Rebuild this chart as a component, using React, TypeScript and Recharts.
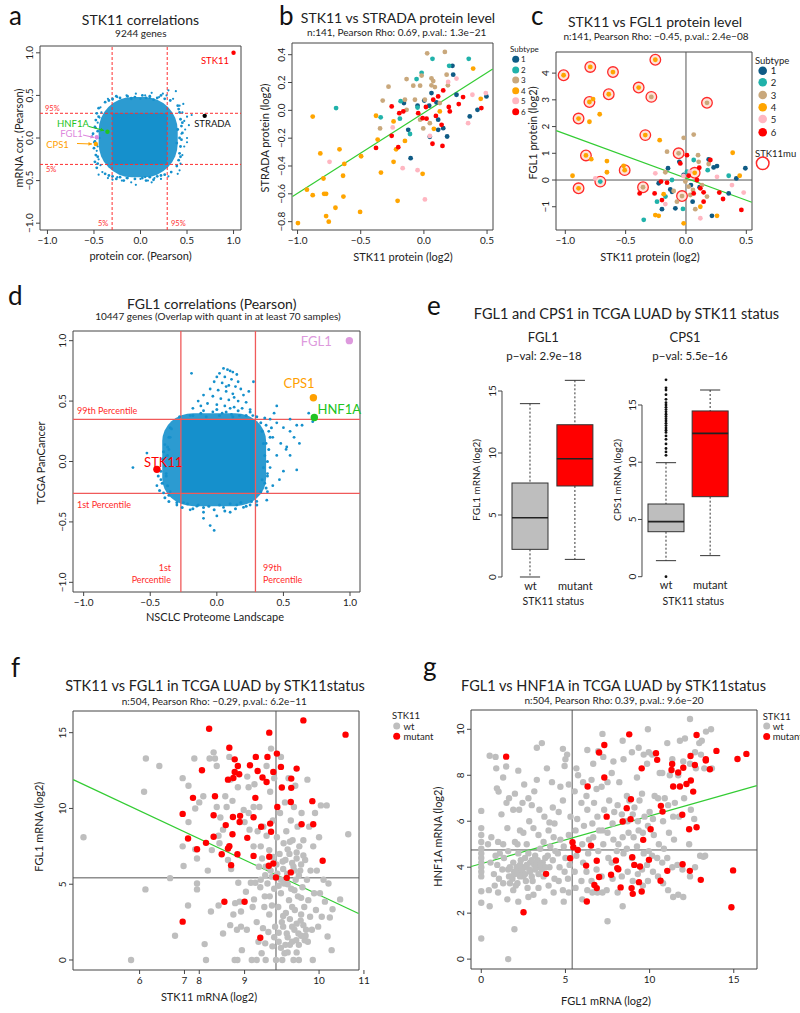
import React from 'react';
import {
  ScatterChart, Scatter, XAxis, YAxis, ReferenceLine, ReferenceArea, ComposedChart, Bar,
} from 'recharts';

const FONT = 'Lato, "Open Sans", "DejaVu Sans", sans-serif';
const BLUE = '#1590cc';
const GREY = '#bebebe';
const RED = '#ff0000';
const GREEN = '#33cc33';
const SUBTYPES = ['1', '2', '3', '4', '5', '6'];
const SUBTYPE_COLORS = ['#0f5b85', '#20b2aa', '#c9a87c', '#ffa500', '#ffb6c1', '#ff0000'];

// ---------- a: STK11 correlations ----------
const aTicks = [-1, -0.5, 0, 0.5, 1];
// the densest part of the cloud fills the 5%-95% box; a thinner halo surrounds it
const aCoreX = [-0.305, 0.287];
const aCoreY = [-0.31, 0.29];
const aHaloX = [-0.45, 0.4];
const aHaloY = [-0.46, 0.48];
const aCutX = [-0.305, 0.287];
const aCutY = [-0.31, 0.29];
const aCloud = [
  [-0.52, 0.02], [-0.5, -0.05], [-0.48, 0.12], [-0.47, -0.15], [-0.46, 0.18], [-0.45, -0.25], [-0.44, 0.24],
  [-0.43, -0.32], [-0.42, 0.3], [-0.44, 0.0], [-0.41, -0.4], [-0.45, -0.43], [-0.43, 0.36], [-0.46, -0.1],
  [-0.35, -0.47], [-0.3, -0.49], [-0.2, -0.5], [-0.1, -0.52], [-0.05, -0.55], [0.0, -0.48], [0.08, -0.5],
  [0.15, -0.47], [0.22, -0.48], [0.3, -0.45], [-0.15, -0.47], [0.05, -0.46], [-0.25, -0.46], [0.12, -0.52],
  [0.42, 0.38], [0.45, 0.3], [0.47, 0.2], [0.48, 0.1], [0.5, 0.0], [0.47, -0.1], [0.45, -0.2], [0.43, -0.3],
  [0.5, 0.25], [0.52, 0.15], [0.55, 0.27], [0.46, 0.4], [0.42, -0.38], [0.5, -0.05], [0.4, -0.42], [0.44, 0.05],
  [-0.35, 0.46], [-0.25, 0.48], [-0.15, 0.5], [-0.05, 0.52], [0.05, 0.5], [0.12, 0.53], [0.2, 0.48], [0.28, 0.5],
  [0.35, 0.46], [0.1, 0.47], [-0.3, 0.45], [0.3, 0.56], [0.38, 0.55], [-0.1, 0.47], [0.0, 0.46], [0.24, 0.52],
];
const aFringe = [
  [-0.47, -0.35], [-0.49, -0.28], [-0.48, -0.2], [-0.5, -0.12], [-0.49, -0.04], [-0.51, 0.05], [-0.49, 0.13], [-0.48, 0.21],
  [-0.47, 0.29], [-0.45, 0.35], [-0.46, -0.3], [-0.47, 0.0], [-0.46, 0.08], [-0.46, -0.22], [-0.45, 0.25], [-0.47, -0.08],
  [-0.38, 0.42], [-0.3, 0.46], [-0.22, 0.47], [-0.14, 0.49], [-0.06, 0.48], [0.02, 0.5], [0.1, 0.49], [0.18, 0.47],
  [0.26, 0.46], [0.32, 0.44], [-0.26, 0.49], [0.06, 0.47], [0.22, 0.5], [-0.1, 0.46], [-0.34, 0.44], [0.14, 0.45],
  [0.4, 0.38], [0.42, 0.3], [0.43, 0.22], [0.44, 0.14], [0.45, 0.06], [0.44, -0.02], [0.43, -0.1], [0.42, -0.18],
  [0.41, -0.26], [0.39, -0.33], [0.41, 0.34], [0.42, 0.0], [0.45, 0.18], [0.43, -0.22], [0.4, 0.1], [0.39, -0.06],
  [-0.38, -0.42], [-0.3, -0.45], [-0.22, -0.46], [-0.14, -0.47], [-0.06, -0.48], [0.02, -0.47], [0.1, -0.46], [0.18, -0.45],
  [0.26, -0.43], [0.33, -0.4], [-0.18, -0.5], [0.06, -0.5], [-0.26, -0.48], [0.14, -0.49], [-0.34, -0.44], [0.22, -0.44],
];
const aGeneNames = ['STK11', 'STRADA', 'HNF1A', 'FGL1', 'CPS1'];
const aGeneX = [1.0, 0.69, -0.355, -0.47, -0.48];
const aGeneY = [1.0, 0.26, 0.074, 0.01, -0.07];
const aGeneColors = ['#ff0000', '#000000', '#22c322', '#dd88dd', '#ffa500'];

// ---------- b: STK11 vs STRADA ----------
const bXTicks = [-1, -0.5, 0, 0.5];
const bYTicks = [-0.8, -0.6, -0.4, -0.2, 0, 0.2, 0.4];
const bFit = [[-1.04, -0.62], [0.545, 0.297]];
const bSub1 = [[-0.105, -0.344], [-0.124, -0.14], [-0.158, 0.052], [-0.05, 0.033], [0.042, 0.033], [0.06, 0.124], [0.1, 0.057], [0.113, -0.067], [0.113, -0.14], [0.153, -0.128], [0.184, -0.188], [0.232, 0.256], [0.226, 0.32], [0.258, 0.112], [0.363, -0.044], [0.424, 0.004], [0.495, 0.1], [0.047, -0.19], [0.003, 0.07]];
const bSub2 = [[-0.695, 0.016], [-0.342, -0.05], [-0.184, 0.066], [-0.19, -0.06], [-0.11, -0.17], [-0.058, 0.225], [-0.018, 0.27], [0.068, 0.37], [0.2, 0.32], [0.355, 0.37], [-0.05, 0.02]];
const bSub3 = [[-0.347, -0.13], [-0.326, 0.07], [-0.28, 0.17], [-0.137, 0.225], [-0.15, 0.076], [-0.084, 0.177], [-0.071, 0.076], [-0.03, 0.177], [-0.018, 0.25], [0.026, 0.41], [0.06, 0.23], [0.06, 0.18], [0.074, 0.21], [0.087, 0.167], [0.166, 0.42], [0.18, 0.256], [0.19, 0.18], [-0.03, -0.067], [-0.005, -0.13], [0.047, -0.092], [-0.137, 0.004], [0.008, 0.076], [0.126, 0.052]];
const bSub4 = [[-0.997, -0.81], [-0.926, -0.57], [-0.88, -0.61], [-0.88, -0.045], [-0.82, -0.31], [-0.795, -0.49], [-0.79, -0.6], [-0.774, -0.6], [-0.774, -0.76], [-0.753, -0.8], [-0.7, -0.7], [-0.668, -0.28], [-0.64, -0.47], [-0.637, -0.62], [-0.63, -0.385], [-0.505, -0.73], [-0.497, -0.33], [-0.379, -0.039], [-0.366, -0.21], [-0.34, -0.447], [-0.24, -0.08], [-0.24, -0.37], [-0.22, -0.28], [-0.208, -0.65], [-0.15, -0.22], [-0.01, -0.456], [0.079, -0.133], [0.126, -0.008], [0.39, 0.3], [0.45, 0.083]];
const bSub5 = [[-0.747, -0.37], [-0.247, -0.123], [-0.168, -0.416], [-0.05, -0.43], [0.008, -0.64], [0.047, -0.184], [0.192, 0.204], [0.258, 0.228], [0.35, -0.092], [0.384, 0.112], [0.49, 0.124]];
const bSub6 = [[-0.379, -0.27], [-0.255, 0.028], [-0.255, -0.183], [-0.203, -0.265], [-0.195, -0.02], [-0.163, -0.008], [-0.045, -0.02], [-0.01, -0.056], [0.021, -0.06], [0.016, 0.024], [0.068, -0.24], [0.074, 0.076], [0.095, -0.04], [0.113, 0.1], [0.14, -0.104], [0.147, -0.256], [0.153, 0.143], [0.197, 0.024], [0.205, -0.008], [0.31, 0.095], [0.276, 0.045], [0.455, 0.016]];
const bSubtypes = [bSub1, bSub2, bSub3, bSub4, bSub5, bSub6];

// ---------- c: STK11 vs FGL1 (x, y, STK11 mutant flag) ----------
const cXTicks = [-1, -0.5, 0, 0.5];
const cYTicks = [-1, 0, 1, 2, 3, 4];
const cFit = [[-1.075, 1.85], [0.545, -0.83]];
const cSub1 = [[-0.199, -1.09, 0], [-0.149, 0.44, 0], [-0.13, -0.35, 0], [-0.226, -0.12, 0], [-0.088, -1.06, 0], [-0.055, 0.68, 0], [-0.019, 0.19, 0], [0.041, -0.19, 0], [0.055, -0.81, 0], [0.113, -0.27, 0], [0.188, 0.77, 0], [0.229, 0.47, 0], [0.257, 0.52, 0], [0.215, -1.34, 0], [0.354, -0.5, 0], [0.417, 0.06, 0], [0.492, 0.44, 0], [-0.116, -0.44, 0]];
const cSub2 = [[-0.71, -0.06, 1], [-0.35, -1.49, 0], [-0.24, -0.81, 0], [-0.116, 0.0, 0], [-0.025, -1.08, 0], [0.064, 0.75, 0], [0.18, 0.37, 0], [0.354, 0.16, 0], [-0.17, -0.62, 0], [0.008, 0.31, 0]];
const cSub3 = [[-0.287, 3.11, 1], [0.174, 2.89, 1], [-0.061, 1.0, 1], [-0.356, -0.27, 1], [-0.033, -0.6, 1], [-0.019, 1.58, 0], [0.064, 1.7, 0], [-0.157, 1.06, 0], [0.105, 0.68, 0], [0.1, 0.93, 0], [0.036, -0.56, 0], [-0.075, -0.81, 0], [0.077, -1.09, 0], [0.174, -0.62, 0], [-0.005, -0.06, 0], [0.022, -0.25, 0], [0.133, -0.19, 0], [-0.171, 0.29, 0], [-0.102, -0.41, 0], [0.058, -0.37, 0], [0.188, 0.6, 0]];
const cSub4 = [[-1.014, 3.92, 1], [-0.793, 4.23, 1], [-0.605, 4.04, 1], [-0.254, 4.5, 1], [-0.392, 3.46, 1], [-0.64, 3.21, 1], [-0.8, 2.92, 1], [-0.89, 2.3, 1], [-0.337, 1.68, 1], [-0.829, 0.92, 1], [-0.508, 0.37, 1], [0.072, 0.27, 1], [-0.89, -0.31, 1], [-0.77, 3.03, 0], [-0.715, 2.46, 0], [-0.8, 2.18, 0], [-0.785, 0.78, 0], [-0.94, 0.16, 0], [-0.655, 0.71, 0], [-0.655, 0.29, 0], [-0.517, 0.53, 0], [-0.218, 1.49, 0], [-0.254, -1.31, 0], [-0.226, -1.34, 0], [-0.185, -0.53, 0], [-0.019, -1.62, 0], [0.257, -1.34, 0], [0.119, -1.0, 0], [0.387, 1.02, 0], [0.445, 0.16, 0]];
const cSub5 = [[-0.751, 0.06, 0], [-0.254, 0.25, 0], [-0.171, -0.9, 0], [0.119, -1.43, 0], [0.257, 0.12, 0], [0.381, -0.19, 0], [0.478, -0.47, 0], [0.03, 0.3, 0], [-0.02, 0.15, 0]];
const cSub6 = [[-0.384, -0.5, 0], [-0.26, -0.5, 0], [-0.199, -0.75, 0], [-0.157, -0.1, 0], [-0.207, -0.06, 0], [0.008, 0.93, 0], [0.022, 0.16, 0], [0.064, -0.5, 0], [0.091, 0.0, 0], [0.11, 0.46, 0], [0.146, -0.81, 0], [0.146, -0.46, 0], [0.202, 0.75, 0], [0.276, -0.47, 0], [0.307, -0.71, 0], [0.459, -1.12, 0], [-0.047, 0.62, 0], [0.119, -0.31, 0]];
const cSubtypes = [cSub1, cSub2, cSub3, cSub4, cSub5, cSub6];

// ---------- d: FGL1 correlations ----------
const dTicks = [-1, -0.5, 0, 0.5, 1];
const dCoreX = [-0.27, 0.29];
const dCoreY = [-0.264, 0.348];
const dHaloX = [-0.41, 0.37];
const dHaloY = [-0.37, 0.4];
const dCutX = [-0.27, 0.29];
const dCutY = [-0.264, 0.348];
const dCloud = [
  [0.05, 0.77], [0.08, 0.76], [0.1, 0.75], [0.12, 0.74], [0.02, 0.73], [0.15, 0.72], [0.0, 0.7], [0.06, 0.7],
  [0.11, 0.68], [-0.02, 0.66], [0.04, 0.65], [0.09, 0.63], [0.14, 0.62], [0.18, 0.6], [-0.05, 0.6], [0.01, 0.59],
  [0.07, 0.58], [0.12, 0.56], [0.2, 0.55], [-0.1, 0.55], [-0.03, 0.54], [0.03, 0.52], [0.09, 0.51], [0.16, 0.5],
  [0.22, 0.49], [-0.14, 0.5], [-0.07, 0.48], [0.0, 0.47], [0.06, 0.46], [0.13, 0.45], [0.19, 0.44], [0.25, 0.43],
  [-0.18, 0.44], [-0.1, 0.42], [-0.03, 0.41], [0.04, 0.4], [0.11, 0.39], [0.17, 0.38], [0.27, 0.38], [-0.2, 0.38],
  [-0.19, 0.73], [0.275, 0.66], [0.16, 0.66], [-0.12, 0.46], [0.24, 0.58], [0.07, 0.62], [0.13, 0.53], [0.1, 0.44],
  [0.37, 0.3], [0.4, 0.35], [0.45, 0.32], [0.5, 0.28], [0.55, 0.25], [0.6, 0.3], [0.64, 0.3], [0.69, 0.4],
  [0.42, 0.2], [0.48, 0.15], [0.52, 0.1], [0.45, 0.05], [0.4, -0.05], [0.38, -0.1], [0.5, -0.08], [0.55, 0.05],
  [0.6, -0.07], [0.42, -0.2], [0.38, -0.25], [0.55, 0.35], [0.45, 0.46], [0.43, 0.4], [0.37, 0.15], [0.58, 0.2],
  [0.36, -0.18], [0.525, 0.12], [0.39, 0.25], [0.47, -0.15], [0.62, 0.15], [0.72, 0.33],
  [-0.3, -0.36], [-0.2, -0.4], [-0.1, -0.42], [0.0, -0.45], [0.1, -0.42], [0.2, -0.38], [-0.15, -0.37],
  [0.05, -0.38], [-0.05, -0.53], [-0.1, -0.47], [0.3, -0.33], [-0.25, -0.34], [-0.02, -0.57], [0.15, -0.36],
  [0.375, -0.32], [0.25, -0.36],
  [-0.38, -0.1], [-0.4, 0.0], [-0.42, -0.15], [-0.36, 0.1], [-0.45, -0.2], [-0.525, 0.07], [-0.63, -0.05],
  [-0.35, 0.2], [-0.35, -0.25], [-0.4, -0.26], [-0.37, 0.05], [-0.39, 0.14], [-0.34, 0.27],
];
const dFringe = [
  [-0.36, -0.28], [-0.37, -0.2], [-0.38, -0.12], [-0.39, -0.04], [-0.38, 0.04], [-0.37, 0.12], [-0.36, 0.2], [-0.35, 0.28],
  [-0.41, -0.18], [-0.42, -0.08], [-0.4, 0.08], [-0.36, -0.33], [-0.44, -0.12], [-0.41, 0.02], [-0.39, -0.3], [-0.43, -0.24],
  [-0.3, -0.34], [-0.22, -0.35], [-0.14, -0.36], [-0.06, -0.37], [0.02, -0.36], [0.1, -0.35], [0.18, -0.34], [0.26, -0.33],
  [-0.18, -0.39], [-0.02, -0.4], [0.14, -0.39], [-0.26, -0.38], [0.06, -0.41], [0.22, -0.37], [-0.1, -0.38], [0.3, -0.36],
  [0.33, -0.25], [0.34, -0.15], [0.35, -0.05], [0.36, 0.05], [0.35, 0.15], [0.34, 0.25], [0.33, 0.32], [0.38, 0.0],
  [0.39, 0.1], [0.4, 0.2], [0.38, -0.12], [0.41, 0.28], [0.36, 0.36], [0.37, -0.22],
  [-0.28, 0.37], [-0.18, 0.38], [-0.08, 0.37], [0.02, 0.38], [0.12, 0.37], [0.22, 0.38], [0.3, 0.37], [-0.12, 0.4],
  [0.07, 0.41], [0.25, 0.41], [0.0, 0.43], [0.16, 0.42],
];
const dGeneNames = ['FGL1', 'CPS1', 'HNF1A', 'STK11'];
const dGeneX = [0.995, 0.725, 0.732, -0.45];
const dGeneY = [1.0, 0.527, 0.364, -0.065];
const dGeneColors = ['#dd99dd', '#ffa000', '#22c322', '#ff0000'];

// ---------- e: FGL1 and CPS1 by STK11 status ----------
const eGroups = ['wt', 'mutant'];
const eFills = [GREY, RED];
const fglLow = [0, 1.42];
const fglQ1 = [2.23, 7.34];
const fglMed = [4.78, 9.54];
const fglQ3 = [7.58, 12.28];
const fglHigh = [13.98, 15.86];
const cpsLow = [1.4, 1.84];
const cpsQ1 = [3.93, 6.99];
const cpsMed = [4.81, 12.52];
const cpsQ3 = [6.35, 14.48];
const cpsHigh = [9.96, 16.31];
const cpsWtOutliers = [0.0, 10.6, 10.9, 11.2, 11.6, 12.0, 12.3, 12.6, 12.8, 13.0, 13.2, 13.4, 13.6, 13.8, 14.0, 14.2, 14.4, 14.6, 14.8, 15.0, 15.2, 15.5, 15.9, 16.3, 16.5, 17.2];
const eTicks = [0, 5, 10, 15];

// ---------- f: STK11 vs FGL1 in TCGA LUAD ----------
const fTickPos = [6, 7, 7.33, 8.34, 10, 11];
const fTickLabels = ['6', '7', '8', '9', '10', '11'];
const fYTicks = [0, 5, 10, 15];
const fFit = [[4.52, 11.9], [10.88, 3.07]];
const fMedX = 9.04;
const fMedY = 5.42;
const fWt = [
  [4.75, 8.1], [5.81, 0], [6.1, 11.1], [6.13, 4.66], [6.14, 13.3], [6.44, 12.8], [6.68, 5.4], [6.79, 1.6], [6.96, 12.0], [6.96, 7.5],
  [6.98, 6.2], [7.09, 11.5], [7.09, 9.1], [7.08, 3.6], [7.22, 13.3], [7.24, 10.0], [7.24, 7.3], [7.28, 6.7], [7.28, 5.05], [7.28, 4.66],
  [7.33, 10.4], [7.42, 10.8], [7.45, 1.05], [7.48, 0], [7.52, 5.9], [7.56, 13.3], [7.61, 7.25], [7.65, 13.7], [7.68, 13.3], [7.72, 12.8],
  [7.72, 10.1], [7.76, 8.2], [7.78, 7.7], [7.8, 9.4], [7.86, 8.6], [7.91, 10.8], [7.94, 10.1], [7.97, 6.6], [8.0, 13.4], [8.02, 11.9],
  [8.04, 6.0], [8.07, 10.5], [8.09, 3.0], [8.12, 0], [8.17, 2.0], [8.18, 0], [8.19, 11.4], [8.2, 5.1], [8.23, 3.85], [8.26, 3.2],
  [8.28, 0.65], [8.32, 9.9], [8.34, 9.1], [8.37, 4.5], [8.39, 2.0], [8.4, 12.1], [8.43, 11.4], [8.45, 8.6], [8.48, 5.1], [8.5, 0],
  [8.52, 3.5], [8.54, 7.5], [8.55, 4.0], [8.56, 11.6], [8.58, 5.1], [8.61, 2.5], [8.61, 0], [8.63, 8.5], [8.65, 1.2], [8.66, 6.15],
  [8.67, 10.1], [8.69, 4.8], [8.7, 7.5], [8.72, 0.45], [8.73, 6.7], [8.75, 2.1], [8.76, 8.8], [8.78, 3.5], [8.79, 4.2], [8.8, 1.1],
  [8.81, 6.15], [8.81, 0], [8.83, 12.8], [8.83, 8.2], [8.85, 5.05], [8.87, 1.85], [8.89, 3.0], [8.89, 7.25], [8.91, 11.1], [8.92, 5.9],
  [8.93, 13.95], [8.95, 3.6], [8.96, 0.9], [8.97, 9.2], [8.98, 6.8], [9.0, 12.0], [9.0, 4.7], [9.02, 2.2], [9.04, 0], [9.06, 8.1],
  [9.07, 5.7], [9.09, 3.5], [9.1, 1.2], [9.12, 7.0], [9.13, 9.7], [9.15, 4.4], [9.15, 13.4], [9.17, 2.5], [9.18, 0], [9.19, 6.5],
  [9.21, 7.7], [9.22, 5.05], [9.23, 0.45], [9.24, 10.4], [9.26, 3.1], [9.27, 8.5], [9.28, 1.75], [9.29, 5.7], [9.32, 12.0], [9.33, 3.95],
  [9.34, 7.0], [9.35, 1.0], [9.37, 9.2], [9.38, 4.7], [9.4, 2.2], [9.41, 7.9], [9.43, 6.15], [9.43, 0], [9.44, 10.1], [9.46, 3.3],
  [9.47, 11.5], [9.48, 5.3], [9.49, 1.3], [9.5, 6.7], [9.52, 8.8], [9.53, 4.2], [9.54, 1.75], [9.55, 0], [9.56, 7.5], [9.58, 5.9],
  [9.59, 2.6], [9.61, 9.7], [9.63, 4.8], [9.65, 7.9], [9.67, 3.5], [9.68, 1.3], [9.69, 6.6], [9.71, 2.0], [9.73, 5.3], [9.74, 11.9],
  [9.76, 3.95], [9.78, 8.8], [9.8, 2.85], [9.81, 5.9], [9.84, 2.0], [9.86, 0], [9.87, 7.5], [9.89, 4.4], [9.91, 9.7], [9.93, 3.3],
  [9.95, 5.9], [9.98, 2.2], [10.0, 8.1], [10.02, 4.4], [10.04, 10.2], [10.06, 2.85], [10.1, 5.3], [10.13, 3.85], [10.17, 10.2], [10.19, 1.55],
  [10.21, 5.05], [10.24, 2.8], [10.28, 0.65], [10.3, 3.35], [10.47, 4.0], [10.65, 8.3], [8.54, 10.1], [8.43, 9.7], [7.59, 3.2], [7.76, 3.6],
  [7.86, 1.75], [8.02, 2.3], [8.13, 3.75], [8.26, 2.2],
  [9.3, 1.5], [9.4, 1.2], [9.5, 2.4], [9.6, 1.6], [9.2, 2.9], [9.35, 2.7], [9.45, 2.0], [9.55, 1.0], [9.65, 2.3], [9.25, 1.0],
  [9.1, 1.8], [9.7, 1.6], [9.6, 3.0], [9.4, 3.5], [9.15, 0.8], [9.5, 0.5], [9.3, 0.5], [9.75, 1.2], [9.0, 1.5], [9.2, 2.2],
  [9.2, 6.0], [9.3, 7.3], [9.4, 6.4], [9.5, 7.1], [9.25, 6.6], [9.45, 5.9], [9.6, 6.3], [9.35, 7.8], [9.55, 5.6], [9.15, 5.3],
  [9.05, 6.3], [9.65, 6.9], [9.3, 5.0], [9.45, 4.6], [9.6, 4.1], [9.1, 4.9], [8.95, 5.5], [8.8, 5.6], [8.7, 5.3], [8.9, 4.2],
];
const fMut = [
  [7.55, 15.26], [9.65, 15.81], [10.59, 14.87], [8.89, 15.0], [8.0, 14.01], [9.06, 13.62], [8.12, 13.24], [8.59, 13.4], [8.85, 13.4], [8.46, 12.85],
  [8.19, 12.8], [9.15, 12.74], [9.5, 12.63], [7.39, 12.52], [8.63, 12.47], [8.12, 12.41], [8.22, 12.26], [8.98, 12.41], [8.09, 12.01], [7.97, 11.9],
  [8.74, 12.04], [8.83, 11.75], [9.38, 11.97], [9.17, 11.38], [9.38, 11.36], [8.58, 10.7], [7.68, 10.8], [7.19, 10.7], [9.37, 10.43], [9.85, 10.48],
  [9.07, 10.1], [6.96, 9.64], [7.65, 9.55], [8.24, 9.51], [8.08, 9.44], [8.23, 9.11], [8.54, 9.42], [8.91, 9.0], [9.61, 8.96], [9.87, 8.96],
  [8.71, 8.79], [7.92, 8.9], [8.07, 8.3], [7.65, 8.13], [8.93, 8.46], [7.08, 8.02], [8.4, 8.06], [7.48, 7.73], [7.28, 7.31], [7.97, 7.36],
  [8.0, 7.51], [7.83, 6.98], [8.18, 6.98], [8.54, 6.87], [8.89, 6.81], [8.98, 6.37], [8.88, 6.22], [8.04, 6.26], [10.08, 6.55], [9.37, 5.78],
  [9.04, 5.45], [9.28, 5.42], [7.89, 3.84], [8.34, 3.84], [6.96, 2.53], [8.69, 1.47],
];

// ---------- g: FGL1 vs HNF1A in TCGA LUAD ----------
const gXTicks = [0, 5, 10, 15];
const gYTicks = [0, 2, 4, 6, 8, 10];
const gFit = [[-0.6, 4.03], [16.37, 7.55]];
const gMedX = 5.4;
const gMedY = 4.75;
const gWt = [
  [0, 0.9], [0, 2.45], [0, 2.95], [0, 3.6], [0, 3.8], [0, 4.0], [0, 4.2], [0, 4.4], [0, 4.6], [0, 4.8], [0, 5.1], [0, 5.4], [0, 5.7], [0, 6.45],
  [0.5, 2.3], [0.45, 3.0], [0.55, 4.2], [0.4, 5.0], [0.6, 5.3], [0.5, 8.85], [0.8, 3.2], [0.75, 3.7], [0.85, 4.5], [0.85, 8.8], [0.89, 8.3],
  [1.0, 2.9], [1.05, 3.5], [0.95, 4.1], [1.1, 4.6], [1.0, 5.1], [0.93, 7.43], [1.03, 7.29], [1.48, 8.38],
  [1.3, 3.3], [1.25, 3.9], [1.35, 4.4], [1.3, 5.0], [1.2, 6.3], [1.3, 7.9],
  [1.6, 0.0], [1.55, 2.6], [1.65, 3.6], [1.6, 3.9], [1.7, 4.0], [1.6, 4.7], [1.55, 5.7], [1.5, 6.8], [1.65, 7.0],
  [1.97, 1.3], [1.9, 3.0], [1.85, 3.5], [1.95, 3.8], [1.9, 4.2], [2.0, 5.1], [1.9, 6.5], [2.0, 7.2],
  [2.2, 2.5], [2.15, 3.3], [2.25, 3.7], [2.2, 3.9], [2.3, 4.1], [2.2, 4.6], [2.15, 5.0], [2.3, 5.6], [2.25, 6.5], [2.2, 8.2],
  [2.5, 3.6], [2.45, 3.8], [2.55, 4.0], [2.6, 4.4], [2.5, 5.5], [2.45, 6.8], [2.55, 7.6],
  [2.8, 2.7], [2.75, 3.1], [2.85, 3.9], [2.9, 4.2], [2.8, 4.6], [2.7, 5.0], [2.85, 6.0], [2.8, 7.0],
  [3.1, 2.8], [3.05, 3.4], [3.15, 4.1], [3.2, 4.5], [3.1, 5.7], [3.0, 6.7], [3.15, 7.3], [3.3, 9.2],
  [3.4, 3.1], [3.45, 4.0], [3.35, 4.3], [3.5, 4.8], [3.4, 5.4], [3.45, 6.5], [3.3, 7.8], [3.6, 9.4],
  [3.75, 2.5], [3.7, 3.6], [3.65, 4.2], [3.8, 4.4], [3.7, 5.1], [3.75, 6.2], [3.9, 8.3],
  [4.0, 3.2], [4.05, 4.0], [3.95, 4.5], [4.1, 4.9], [4.0, 5.6], [4.2, 7.7], [4.05, 5.95],
  [4.3, 2.9], [4.35, 3.5], [4.25, 4.3], [4.4, 4.7], [4.3, 5.3], [4.35, 5.9], [4.25, 6.6],
  [4.6, 3.4], [4.65, 4.0], [4.55, 4.6], [4.7, 5.2], [4.6, 6.4], [4.7, 7.5],
  [4.9, 2.5], [4.85, 3.0], [4.95, 3.8], [5.0, 4.4], [4.9, 4.9], [4.85, 6.9], [4.95, 8.4], [4.85, 9.15], [5.0, 8.7],
  [5.2, 2.9], [5.15, 3.5], [5.25, 4.1], [5.2, 5.4], [5.3, 6.2], [5.2, 7.6], [5.1, 8.9],
  [5.6, 3.1], [5.55, 3.8], [5.65, 4.5], [5.6, 5.6], [5.7, 6.1], [5.55, 7.3], [5.65, 8.3], [5.75, 8.0],
  [6.0, 2.6], [5.95, 3.4], [6.05, 4.2], [6.0, 5.0], [6.1, 5.8], [5.95, 6.8], [6.05, 7.7],
  [6.3, 3.0], [6.25, 3.8], [6.35, 4.6], [6.4, 5.2], [6.3, 6.5], [6.25, 7.1], [6.3, 9.1],
  [6.6, 2.9], [6.55, 3.4], [6.65, 5.3], [6.6, 5.9], [6.7, 6.8], [6.55, 7.8], [6.65, 8.5],
  [6.9, 2.9], [6.85, 3.9], [6.95, 4.7], [7.0, 5.6], [6.9, 6.2], [6.85, 7.4], [6.95, 9.05],
  [7.2, 2.9], [7.15, 3.6], [7.25, 5.0], [7.2, 5.6], [7.3, 6.5], [7.15, 7.5], [7.25, 8.8], [7.2, 9.8],
  [7.5, 1.65], [7.45, 3.0], [7.55, 4.4], [7.5, 5.5], [7.6, 6.9], [7.5, 7.7],
  [7.8, 3.5], [7.75, 4.2], [7.85, 5.2], [7.8, 5.9], [7.9, 6.4], [7.75, 8.1], [7.85, 8.6],
  [8.1, 2.9], [8.05, 4.7], [8.15, 5.0], [8.1, 6.7], [8.2, 7.7],
  [8.4, 2.3], [8.35, 3.6], [8.45, 4.6], [8.4, 5.3], [8.5, 6.0], [8.35, 6.3], [8.45, 8.7], [8.4, 9.5],
  [8.7, 3.8], [8.65, 4.8], [8.75, 5.5], [8.7, 6.0], [8.8, 6.9], [8.65, 7.1],
  [9.0, 3.4], [8.95, 4.4], [9.05, 5.3], [9.0, 6.3], [9.1, 6.6], [8.95, 9.0],
  [9.3, 3.7], [9.25, 4.9], [9.35, 5.6], [9.3, 6.0], [9.4, 6.9], [9.25, 7.9], [9.35, 9.2],
  [9.6, 3.2], [9.55, 3.9], [9.65, 4.6], [9.6, 5.5], [9.7, 6.2], [9.55, 7.2], [9.65, 8.9],
  [9.9, 3.4], [9.85, 4.1], [9.95, 4.7], [9.9, 5.8], [10.0, 6.4], [9.85, 8.5], [9.95, 9.0], [9.9, 10.0],
  [10.2, 3.8], [10.15, 4.5], [10.25, 5.4], [10.2, 6.1], [10.3, 7.1], [10.15, 8.9],
  [10.5, 3.6], [10.45, 4.4], [10.55, 5.0], [10.5, 7.0], [10.6, 8.1],
  [10.8, 3.3], [10.75, 4.2], [10.85, 4.8], [10.8, 6.0], [10.9, 7.0], [10.75, 8.1],
  [11.1, 3.0], [11.05, 4.4], [11.15, 5.5], [11.1, 6.7], [11.2, 8.0], [11.05, 9.4],
  [11.4, 2.7], [11.35, 4.0], [11.45, 5.2], [11.4, 6.2], [11.5, 6.8], [11.35, 8.7],
  [11.7, 2.8], [11.65, 4.1], [11.75, 6.2], [11.7, 8.0], [11.8, 9.5],
  [12.0, 2.7], [11.95, 3.9], [12.05, 7.0], [12.0, 8.6], [12.1, 9.6],
  [12.4, 3.6], [12.35, 5.0], [12.45, 6.5], [12.4, 8.5], [12.4, 10.45],
  [12.7, 4.0], [12.65, 6.1], [12.75, 8.3], [12.7, 9.0], [13.0, 4.5], [13.05, 8.9], [12.95, 9.4], [13.1, 9.5],
  [13.3, 4.5], [13.25, 8.3], [13.35, 9.9], [13.2, 4.45], [13.7, 8.3], [13.65, 10.0],
  [1.8, 3.6], [2.0, 3.7], [2.1, 4.0], [2.3, 3.6], [2.4, 3.9], [2.6, 3.7], [2.7, 4.1], [2.9, 3.8], [3.0, 4.3], [3.2, 3.9],
  [3.3, 4.2], [3.5, 4.1], [3.6, 3.9], [1.7, 3.3], [2.05, 3.2], [2.35, 4.3], [2.65, 3.4], [3.0, 3.6], [3.4, 3.7], [3.8, 4.0],
];
const gMut = [
  [1.48, 8.81], [2.51, 2.04], [3.85, 3.71], [5.28, 4.39], [5.42, 5.09], [5.47, 4.87], [5.73, 4.75], [6.32, 7.51], [6.23, 4.07], [6.27, 2.51],
  [6.52, 4.94], [6.86, 4.28], [6.72, 3.23], [6.86, 3.09], [7.0, 3.57], [7.0, 8.99], [7.31, 9.32], [7.31, 7.9], [7.45, 6.2], [7.71, 3.67],
  [8.0, 4.29], [8.08, 3.96], [8.14, 3.91], [8.28, 3.12], [8.4, 5.99], [8.64, 6.57], [8.79, 9.78], [8.87, 6.09], [8.89, 6.96], [8.97, 4.43],
  [8.93, 3.09], [9.0, 2.84], [9.09, 4.1], [9.43, 4.03], [9.37, 3.35], [9.53, 8.3], [9.53, 2.94], [9.62, 5.19], [9.96, 4.32], [10.06, 5.65],
  [10.38, 8.96], [10.45, 8.67], [10.67, 6.67], [10.77, 6.42], [10.65, 3.41], [11.05, 3.84], [11.3, 8.23], [11.34, 8.49], [11.4, 7.51], [11.7, 8.12],
  [11.8, 7.51], [11.94, 6.28], [11.96, 4.13], [12.0, 8.33], [12.19, 7.62], [12.35, 5.65], [12.39, 3.84], [12.43, 8.84], [12.45, 7.77], [12.59, 7.29],
  [12.69, 8.45], [12.79, 9.75], [12.79, 5.74], [13.04, 3.45], [13.34, 8.7], [13.34, 8.64], [13.58, 8.26], [13.97, 9.06], [14.86, 2.26], [14.96, 3.86],
  [15.22, 8.71], [15.75, 8.93],
];

// ---------- helpers ----------
const pts = (arr: number[][]) => arr.map((p) => ({ x: p[0], y: p[1] }));
const dec1 = (v: number) => (v < 0 ? '\u2212' : '') + Math.abs(v).toFixed(1);
const int0 = (v: number) => (v < 0 ? '\u2212' : '') + Math.abs(v).toFixed(0);
const dot = (r: number, fill: string) => (p: any) => <circle cx={p.cx} cy={p.cy} r={r} fill={fill} />;
const ring = (p: any) => <circle cx={p.cx} cy={p.cy} r={5.3} fill="#ffe3d8" stroke="#ff2a2a" strokeWidth={1.3} />;
const blob = (fill: string, k: number, op = 1) => (p: any) => (
  <rect x={p.x} y={p.y} width={p.width} height={p.height} rx={p.width * k} ry={p.height * k} fill={fill} fillOpacity={op} />
);

const RotTick = ({ x, y, payload, fmt, size = 10 }: any) => (
  <text x={x} y={y} transform={`rotate(-90 ${x} ${y})`} textAnchor="middle" fontSize={size} fill="#222" fontFamily={FONT}>
    {fmt(payload.value)}
  </text>
);

const YW = 36;
const XH = 30;
const PAD = 6;

const ScatterPanel = ({ box, xDomain, yDomain, xTicks, yTicks, xFmt, yFmt, padR = PAD, children }: any) => {
  const [l, t, r, b] = box;
  return (
    <div style={{ position: 'absolute', left: l - YW, top: t - PAD }}>
      <ScatterChart width={r - l + YW + padR} height={b - t + XH + PAD} margin={{ top: PAD, right: padR, bottom: 0, left: 0 }}>
        <XAxis
          type="number" dataKey="x" domain={xDomain} ticks={xTicks} interval={0} allowDataOverflow
          tickFormatter={xFmt} axisLine={false} tickSize={4} tickMargin={3} height={XH} stroke="#444"
          tick={{ fontSize: 10, fill: '#222', fontFamily: FONT }}
        />
        <YAxis
          type="number" dataKey="y" domain={yDomain} ticks={yTicks} interval={0} allowDataOverflow
          width={YW} axisLine={false} tickSize={4} tickMargin={3} stroke="#444"
          tick={(p: any) => <RotTick {...p} fmt={yFmt} />}
        />
        <ReferenceArea
          x1={xDomain[0]} x2={xDomain[1]} y1={yDomain[0]} y2={yDomain[1]}
          fill="none" fillOpacity={0} stroke="#444" strokeWidth={1} ifOverflow="visible"
        />
        {children}
      </ScatterChart>
    </div>
  );
};

const BoxShape = (props: any) => {
  const { x, y, width, height, payload } = props;
  const ppu = Math.abs(height) / (payload.q3 - payload.q1);
  const py = (v: number) => y + (payload.q3 - v) * ppu;
  const cx = x + width / 2;
  const cap = width * 0.28;
  return (
    <g>
      <line x1={cx} x2={cx} y1={py(payload.hi)} y2={py(payload.q3)} stroke="#333" strokeDasharray="2 2" />
      <line x1={cx} x2={cx} y1={py(payload.q1)} y2={py(payload.lo)} stroke="#333" strokeDasharray="2 2" />
      <line x1={cx - cap} x2={cx + cap} y1={py(payload.hi)} y2={py(payload.hi)} stroke="#333" />
      <line x1={cx - cap} x2={cx + cap} y1={py(payload.lo)} y2={py(payload.lo)} stroke="#333" />
      <rect x={x} y={py(payload.q3)} width={width} height={Math.abs(height)} fill={payload.fill} stroke="#333" />
      <line x1={x} x2={x + width} y1={py(payload.med)} y2={py(payload.med)} stroke="#222" strokeWidth={1.6} />
      {payload.out.map((v: number, i: number) => (
        <circle key={i} cx={cx} cy={py(v)} r={1.4} fill="#111" />
      ))}
    </g>
  );
};

const boxRows = (lo: number[], q1: number[], med: number[], q3: number[], hi: number[], out: number[][]) =>
  eGroups.map((name, i) => ({
    name, iqr: [q1[i], q3[i]], lo: lo[i], q1: q1[i], med: med[i], q3: q3[i], hi: hi[i], out: out[i], fill: eFills[i],
  }));

const BoxPanel = ({ box, rows, padLeft, mt }: any) => {
  const [l, t, r, b] = box;
  const BW = 36;
  const BXH = 24;
  return (
    <div style={{ position: 'absolute', left: l - BW, top: t - mt }}>
      <ComposedChart width={r - l + BW} height={b - t + mt + BXH} data={rows} margin={{ top: mt, right: 0, bottom: 0, left: 0 }}>
        <XAxis
          dataKey="name" type="category" axisLine={false} tickLine={false} tickSize={0} tickMargin={5}
          padding={{ left: padLeft, right: 0 }} height={BXH}
          tick={{ fontSize: 11, fill: '#222', fontFamily: FONT }}
        />
        <YAxis
          type="number" domain={[0, 15]} ticks={eTicks} interval={0} width={BW}
          axisLine={{ stroke: '#444' }} tickLine={{ stroke: '#444' }} tickSize={4} tickMargin={2}
          tick={(p: any) => <RotTick {...p} fmt={int0} />}
        />
        <Bar dataKey="iqr" barSize={36} shape={BoxShape} isAnimationActive={false} />
      </ComposedChart>
    </div>
  );
};

const T = ({ x, y, s = 10, c = '#222', a = 'middle', rot = false, children }: any) => (
  <text
    x={x} y={y} fontSize={s} fill={c} textAnchor={a} dominantBaseline="central"
    transform={rot ? `rotate(-90 ${x} ${y})` : undefined}
  >
    {children}
  </text>
);

const Arrow = ({ x1, y1, x2, y2, c }: any) => {
  const ang = Math.atan2(y2 - y1, x2 - x1);
  const h = 4;
  const p1 = [x2 - h * Math.cos(ang - 0.5), y2 - h * Math.sin(ang - 0.5)];
  const p2 = [x2 - h * Math.cos(ang + 0.5), y2 - h * Math.sin(ang + 0.5)];
  return (
    <g>
      <line x1={x1} y1={y1} x2={x2} y2={y2} stroke={c} strokeWidth={1.2} />
      <polygon points={`${x2},${y2} ${p1[0]},${p1[1]} ${p2[0]},${p2[1]}`} fill={c} />
    </g>
  );
};

const fFmt = (v: number) => fTickLabels[fTickPos.indexOf(v)] ?? String(v);
const B_LEG_Y = [59.3, 70, 80, 90.7, 100.7, 111.7];
const C_LEG_Y = [70.7, 82.3, 95, 107.3, 119, 132.3];

export default function App() {
  const cRing = cSubtypes.flat().filter((p) => p[2] === 1);
  const fglRows = boxRows(fglLow, fglQ1, fglMed, fglQ3, fglHigh, [[], []]);
  const cpsRows = boxRows(cpsLow, cpsQ1, cpsMed, cpsQ3, cpsHigh, [cpsWtOutliers, []]);

  return (
    <div style={{ position: 'absolute', left: 0, top: 0, width: 800, height: 1013, background: '#fff', fontFamily: FONT, overflow: 'hidden' }}>
      {/* a */}
      <ScatterPanel box={[40, 46, 241, 230]} xDomain={[-1.08, 1.08]} yDomain={[-1.08, 1.08]} xTicks={aTicks} yTicks={aTicks} xFmt={dec1} yFmt={dec1}>
        <ReferenceArea x1={aHaloX[0]} x2={aHaloX[1]} y1={aHaloY[0]} y2={aHaloY[1]} shape={blob(BLUE, 0.42, 0.9)} ifOverflow="visible" />
        <ReferenceArea x1={aCoreX[0]} x2={aCoreX[1]} y1={aCoreY[0]} y2={aCoreY[1]} shape={blob(BLUE, 0.02)} ifOverflow="visible" />
        <Scatter data={pts(aFringe)} isAnimationActive={false} shape={dot(1.4, BLUE)} />
        <Scatter data={pts(aCloud)} isAnimationActive={false} shape={dot(1.1, BLUE)} />
        {aCutX.map((v) => <ReferenceLine key={'ax' + v} x={v} stroke="#ff3030" strokeDasharray="3 2" />)}
        {aCutY.map((v) => <ReferenceLine key={'ay' + v} y={v} stroke="#ff3030" strokeDasharray="3 2" />)}
        {aGeneNames.map((n, i) => (
          <Scatter key={n} data={[{ x: aGeneX[i], y: aGeneY[i] }]} isAnimationActive={false} shape={dot(2.2, aGeneColors[i])} />
        ))}
      </ScatterPanel>

      {/* b */}
      <ScatterPanel box={[292, 43, 493, 230]} xDomain={[-1.044, 0.547]} yDomain={[-0.86, 0.484]} xTicks={bXTicks} yTicks={bYTicks} xFmt={dec1} yFmt={dec1}>
        <ReferenceLine segment={pts(bFit)} stroke={GREEN} strokeWidth={1.2} ifOverflow="visible" />
        {bSubtypes.map((s, i) => (
          <Scatter key={i} data={pts(s)} isAnimationActive={false} shape={dot(2.4, SUBTYPE_COLORS[i])} />
        ))}
      </ScatterPanel>

      {/* c */}
      <ScatterPanel box={[556, 52, 752, 230]} xDomain={[-1.077, 0.547]} yDomain={[-1.87, 4.79]} xTicks={cXTicks} yTicks={cYTicks} xFmt={dec1} yFmt={int0}>
        <ReferenceLine x={0} stroke="#555" />
        <ReferenceLine y={0} stroke="#555" />
        <Scatter data={pts(cRing)} isAnimationActive={false} shape={ring} />
        <ReferenceLine segment={pts(cFit)} stroke={GREEN} strokeWidth={1.2} ifOverflow="visible" />
        {cSubtypes.map((s, i) => (
          <Scatter key={i} data={pts(s)} isAnimationActive={false} shape={dot(2.4, SUBTYPE_COLORS[i])} />
        ))}
      </ScatterPanel>

      {/* d */}
      <ScatterPanel box={[73, 331, 360, 592]} xDomain={[-1.08, 1.075]} yDomain={[-1.08, 1.08]} xTicks={dTicks} yTicks={dTicks} xFmt={dec1} yFmt={dec1}>
        <ReferenceArea x1={dHaloX[0]} x2={dHaloX[1]} y1={dHaloY[0]} y2={dHaloY[1]} shape={blob(BLUE, 0.3, 0.9)} ifOverflow="visible" />
        <ReferenceArea x1={dCoreX[0]} x2={dCoreX[1]} y1={dCoreY[0]} y2={dCoreY[1]} shape={blob(BLUE, 0.02)} ifOverflow="visible" />
        <Scatter data={pts(dFringe)} isAnimationActive={false} shape={dot(1.5, BLUE)} />
        <Scatter data={pts(dCloud)} isAnimationActive={false} shape={dot(1.4, BLUE)} />
        {dCutX.map((v) => <ReferenceLine key={'dx' + v} x={v} stroke="#f05a5a" strokeWidth={1.3} />)}
        {dCutY.map((v) => <ReferenceLine key={'dy' + v} y={v} stroke="#f05a5a" strokeWidth={1.3} />)}
        {dGeneNames.map((n, i) => (
          <Scatter key={n} data={[{ x: dGeneX[i], y: dGeneY[i] }]} isAnimationActive={false} shape={dot(3.7, dGeneColors[i])} />
        ))}
      </ScatterPanel>

      {/* e */}
      <BoxPanel box={[501.7, 390.7, 597.5, 576.7]} rows={fglRows} padLeft={6} mt={20} />
      <BoxPanel box={[641.7, 405, 732, 576.7]} rows={cpsRows} padLeft={2} mt={36} />

      {/* f */}
      <ScatterPanel box={[73, 711, 359, 970]} xDomain={[4.516, 10.89]} yDomain={[-0.66, 16.43]} xTicks={fTickPos} yTicks={fYTicks} xFmt={fFmt} yFmt={int0} padR={16}>
        <Scatter data={pts(fWt)} isAnimationActive={false} shape={dot(3.2, GREY)} />
        <Scatter data={pts(fMut)} isAnimationActive={false} shape={dot(3.2, RED)} />
        <ReferenceLine x={fMedX} stroke="#555" />
        <ReferenceLine y={fMedY} stroke="#555" />
        <ReferenceLine segment={pts(fFit)} stroke={GREEN} strokeWidth={1.2} ifOverflow="visible" />
      </ScatterPanel>

      {/* g */}
      <ScatterPanel box={[471, 710, 757, 969]} xDomain={[-0.61, 16.38]} yDomain={[-0.43, 10.84]} xTicks={gXTicks} yTicks={gYTicks} xFmt={int0} yFmt={int0}>
        <Scatter data={pts(gWt)} isAnimationActive={false} shape={dot(3.2, GREY)} />
        <Scatter data={pts(gMut)} isAnimationActive={false} shape={dot(3.2, RED)} />
        <ReferenceLine x={gMedX} stroke="#555" />
        <ReferenceLine y={gMedY} stroke="#555" />
        <ReferenceLine segment={pts(gFit)} stroke={GREEN} strokeWidth={1.2} ifOverflow="visible" />
      </ScatterPanel>

      {/* text overlay */}
      <svg width={800} height={1013} style={{ position: 'absolute', left: 0, top: 0, pointerEvents: 'none' }} fontFamily={FONT}>
        <text x={9} y={25} fontSize={26} fill="#111">a</text>
        <text x={279} y={25} fontSize={26} fill="#111">b</text>
        <text x={531} y={25} fontSize={26} fill="#111">c</text>
        <text x={8} y={305} fontSize={26} fill="#111">d</text>
        <text x={427} y={315} fontSize={26} fill="#111">e</text>
        <text x={11} y={677} fontSize={26} fill="#111">f</text>
        <text x={423} y={676} fontSize={26} fill="#111">g</text>

        {/* a */}
        <T x={140.5} y={19} s={14}>STK11 correlations</T>
        <T x={140.8} y={33} s={10}>9244 genes</T>
        <T x={140.5} y={255} s={11}>protein cor. (Pearson)</T>
        <T x={18} y={138} s={11} rot>mRNA cor. (Pearson)</T>
        <T x={45} y={108.5} s={7.5} c="#ff3030" a="start">95%</T>
        <T x={46} y={169} s={7.5} c="#ff3030" a="start">5%</T>
        <T x={98} y={223.5} s={7.5} c="#ff3030" a="start">5%</T>
        <T x={171} y={223.5} s={7.5} c="#ff3030" a="start">95%</T>
        <T x={215} y={60} s={9.5} c="#ff0000">STK11</T>
        <T x={212.5} y={123.5} s={9.5} c="#111">STRADA</T>
        <T x={73} y={123} s={9.5} c="#22c322">HNF1A</T>
        <T x={71.5} y={133.5} s={9.5} c="#dd88dd">FGL1</T>
        <T x={57.5} y={144} s={9.5} c="#ffa000">CPS1</T>
        <Arrow x1={89} y1={126.5} x2={104} y2={130.5} c="#22c322" />
        <Arrow x1={83} y1={135} x2={94} y2={137.5} c="#dd88dd" />
        <Arrow x1={77} y1={143.5} x2={92} y2={144} c="#ffa000" />

        {/* b */}
        <T x={398} y={17.5} s={14}>STK11 vs STRADA protein level</T>
        <T x={396.7} y={31.7} s={10}>n:141, Pearson Rho: 0.69, p.val.: 1.3e−21</T>
        <T x={403} y={256} s={11}>STK11 protein (log2)</T>
        <T x={264} y={138} s={11} rot>STRADA protein (log2)</T>
        <T x={510} y={49.3} s={8} a="start">Subtype</T>
        {SUBTYPES.map((s, i) => (
          <g key={'bl' + s}>
            <circle cx={515.7} cy={B_LEG_Y[i]} r={3.5} fill={SUBTYPE_COLORS[i]} />
            <T x={521} y={B_LEG_Y[i]} s={8} a="start">{s}</T>
          </g>
        ))}

        {/* c */}
        <T x={655} y={21.7} s={14}>STK11 vs FGL1 protein level</T>
        <T x={656} y={36} s={10}>n:141, Pearson Rho: −0.45, p.val.: 2.4e−08</T>
        <T x={650} y={256.7} s={11}>STK11  protein (log2)</T>
        <T x={532.5} y={133} s={11} rot>FGL1 protein (log2)</T>
        <T x={755} y={60} s={9.5} a="start">Subtype</T>
        {SUBTYPES.map((s, i) => (
          <g key={'cl' + s}>
            <circle cx={762.7} cy={C_LEG_Y[i]} r={4.3} fill={SUBTYPE_COLORS[i]} />
            <T x={770.7} y={C_LEG_Y[i]} s={9.5} a="start">{s}</T>
          </g>
        ))}
        <T x={755} y={153.3} s={9.5} a="start">STK11mu</T>
        <circle cx={762.7} cy={163.3} r={6.3} fill="none" stroke="#ff2a2a" strokeWidth={1.5} />

        {/* d */}
        <T x={211.7} y={303} s={14}>FGL1 correlations (Pearson)</T>
        <T x={218} y={316} s={10}>10447 genes (Overlap with quant in at least 70 samples)</T>
        <T x={215} y={616} s={11}>NSCLC Proteome Landscape</T>
        <T x={40} y={463} s={11} rot>TCGA PanCancer</T>
        <T x={77} y={410} s={9} c="#ff2a2a" a="start">99th Percentile</T>
        <T x={77} y={504} s={9} c="#ff2a2a" a="start">1st Percentile</T>
        <T x={171} y={567.7} s={9} c="#ff2a2a" a="end">1st</T>
        <T x={171} y={579.5} s={9} c="#ff2a2a" a="end">Percentile</T>
        <T x={263} y={567.7} s={9} c="#ff2a2a" a="start">99th</T>
        <T x={263} y={579.5} s={9} c="#ff2a2a" a="start">Percentile</T>
        <T x={316.3} y={340.7} s={13} c="#dd99dd">FGL1</T>
        <T x={299} y={383.3} s={13} c="#ffa000">CPS1</T>
        <T x={339.3} y={409.3} s={13} c="#22c322">HNF1A</T>
        <T x={163.3} y={461.7} s={13} c="#ff0000">STK11</T>

        {/* e */}
        <T x={626.5} y={313} s={14.5}>FGL1 and CPS1 in TCGA LUAD by STK11 status</T>
        <T x={543.3} y={336.7} s={13}>FGL1</T>
        <T x={544} y={355} s={11.5}>p−val: 2.9e−18</T>
        <T x={685} y={336.7} s={13}>CPS1</T>
        <T x={690} y={355} s={11.5}>p−val: 5.5e−16</T>
        <T x={476} y={480} s={10} rot>FGL1 mRNA (log2)</T>
        <T x={616.7} y={480} s={10} rot>CPS1 mRNA (log2)</T>
        <T x={553.3} y={601} s={10.5}>STK11 status</T>
        <T x={693.3} y={601} s={10.5}>STK11 status</T>

        {/* f */}
        <T x={215} y={685} s={14.5}>STK11 vs FGL1 in TCGA LUAD by STK11status</T>
        <T x={214.3} y={700.7} s={10}>n:504, Pearson Rho: −0.29, p.val.: 6.2e−11</T>
        <T x={209} y={996.7} s={11}>STK11 mRNA (log2)</T>
        <T x={39} y={826.7} s={11} rot>FGL1 mRNA (log2)</T>
        <T x={392} y={715.5} s={9.5} a="start">STK11</T>
        <circle cx={396.7} cy={726} r={3.5} fill={GREY} />
        <circle cx={396.7} cy={736.3} r={3.5} fill={RED} />
        <T x={403.5} y={726} s={9.5} a="start">wt</T>
        <T x={403.5} y={736.3} s={9.5} a="start">mutant</T>

        {/* g */}
        <T x={613.5} y={685} s={14.5}>FGL1 vs HNF1A in TCGA LUAD by STK11status</T>
        <T x={614} y={700} s={10}>n:504, Pearson Rho: 0.39, p.val.: 9.6e−20</T>
        <T x={606} y={1000} s={11}>FGL1 mRNA (log2)</T>
        <T x={437.5} y={836.7} s={11} rot>HNF1A mRNA (log2)</T>
        <T x={762.7} y={716} s={9.5} a="start">STK11</T>
        <circle cx={766.7} cy={726} r={3.5} fill={GREY} />
        <circle cx={766.7} cy={736.5} r={3.5} fill={RED} />
        <T x={772.7} y={726} s={9.5} a="start">wt</T>
        <T x={772.7} y={736.5} s={9.5} a="start">mutant</T>
      </svg>
    </div>
  );
}
